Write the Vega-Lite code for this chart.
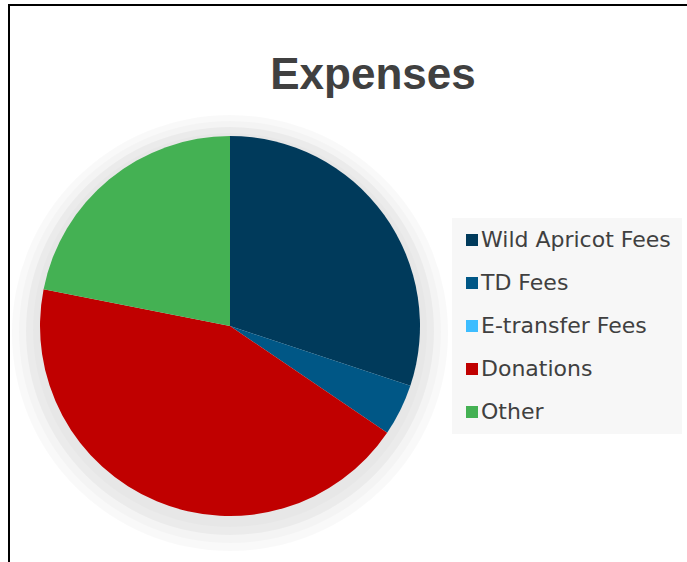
{
  "$schema": "https://vega.github.io/schema/vega-lite/v6.json",
  "autosize": {"type": "none"},
  "padding": {"left": 9, "top": 5, "right": 0, "bottom": 0},
  "width": 700,
  "height": 600,
  "background": "#ffffff",
  "config": {
    "view": {"stroke": null}
  },
  "title": {
    "text": "Expenses",
    "font": "Liberation Sans",
    "fontSize": 44,
    "fontWeight": "bold",
    "color": "#404040",
    "anchor": "middle",
    "frame": "group",
    "baseline": "alphabetic",
    "offset": -86,
    "dx": 14,
    "dy": 43
  },
  "datasets": {
    "expenses": [
      {"category": "Wild Apricot Fees", "share": 30.1, "idx": 1},
      {"category": "TD Fees", "share": 4.4, "idx": 2},
      {"category": "E-transfer Fees", "share": 0, "idx": 3},
      {"category": "Donations", "share": 43.6, "idx": 4},
      {"category": "Other", "share": 21.9, "idx": 5}
    ],
    "whole": [{"part": "all", "share": 100}]
  },
  "layer": [
    {
      "data": {"name": "whole"},
      "mark": {"type": "rect", "fill": null, "stroke": "#000000", "strokeWidth": 2},
      "encoding": {}
    },
    {
      "data": {"name": "whole"},
      "mark": {"type": "arc", "outerRadius": 218, "x": 221, "y": 328, "fill": "#000000", "opacity": 0.022},
      "encoding": {"theta": {"field": "share", "type": "quantitative"}}
    },
    {
      "data": {"name": "whole"},
      "mark": {"type": "arc", "outerRadius": 211, "x": 221, "y": 327, "fill": "#000000", "opacity": 0.02},
      "encoding": {"theta": {"field": "share", "type": "quantitative"}}
    },
    {
      "data": {"name": "whole"},
      "mark": {"type": "arc", "outerRadius": 204, "x": 221, "y": 326, "fill": "#000000", "opacity": 0.035},
      "encoding": {"theta": {"field": "share", "type": "quantitative"}}
    },
    {
      "data": {"name": "whole"},
      "mark": {"type": "arc", "outerRadius": 197, "x": 221, "y": 325, "fill": "#000000", "opacity": 0.015},
      "encoding": {"theta": {"field": "share", "type": "quantitative"}}
    },
    {
      "data": {"name": "expenses"},
      "mark": {"type": "arc", "outerRadius": 190, "x": 221, "y": 321, "stroke": null},
      "encoding": {
        "theta": {"field": "share", "type": "quantitative", "stack": true},
        "order": {"field": "idx", "type": "quantitative"},
        "color": {
          "field": "category",
          "type": "nominal",
          "scale": {
            "domain": ["Wild Apricot Fees", "TD Fees", "E-transfer Fees", "Donations", "Other"],
            "range": ["#003a5b", "#005786", "#3dbdff", "#c00000", "#44b153"]
          },
          "legend": {
            "title": null,
            "orient": "none",
            "legendX": 443,
            "legendY": 213,
            "direction": "vertical",
            "fillColor": "#f7f7f7",
            "padding": 11,
            "symbolType": "square",
            "symbolSize": 144,
            "symbolStrokeWidth": 0,
            "symbolOffset": -2,
            "symbolOpacity": 1,
            "labelFont": "DejaVu Sans",
            "labelFontSize": 22,
            "labelColor": "#404040",
            "labelOffset": -2,
            "labelLimit": 400,
            "rowPadding": 21
          }
        }
      }
    }
  ]
}
